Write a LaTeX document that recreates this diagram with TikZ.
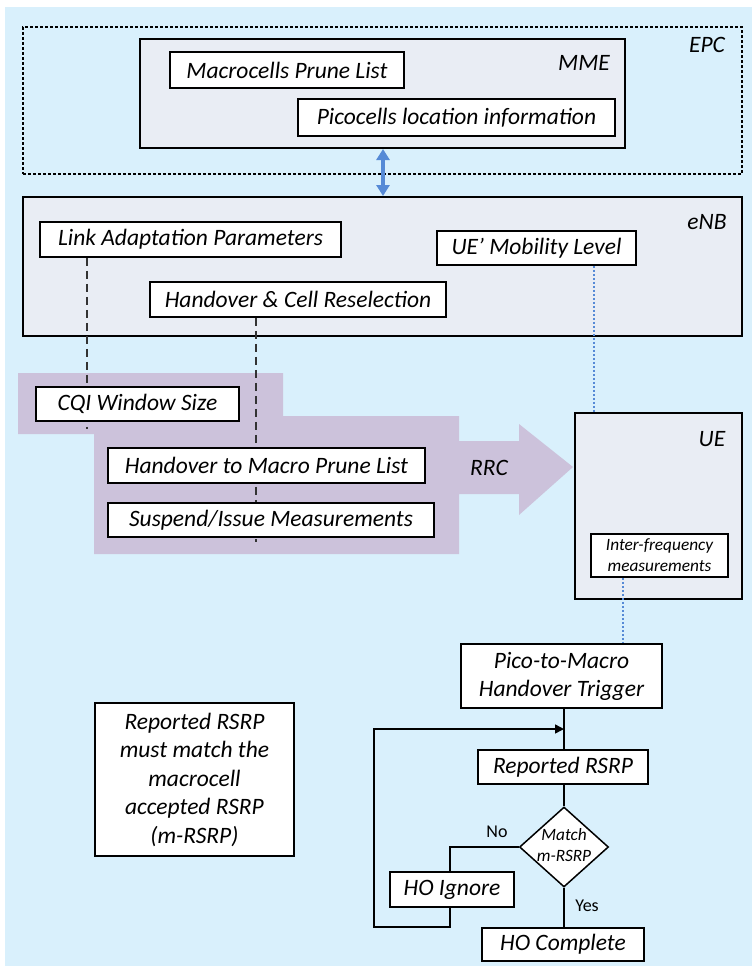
\documentclass[tikz,border=0pt]{standalone}
\usepackage{fontspec}
\setmainfont{Carlito}
\usetikzlibrary{shapes.geometric,arrows.meta}
\definecolor{bgblue}{RGB}{217,240,252}
\definecolor{contfill}{RGB}{233,237,244}
\definecolor{lavender}{RGB}{204,194,219}
\definecolor{linkblue}{RGB}{86,138,214}
\newcommand\ftA{\fontsize{23.5}{28}\selectfont\itshape}
\newcommand\ftB{\fontsize{23.5}{28.5}\selectfont\itshape}
\newcommand\ftS{\fontsize{17.3}{21}\selectfont\itshape}
\newcommand\ftN{\fontsize{18}{21}\selectfont}
\pgfdeclarelayer{bg}
\pgfdeclarelayer{mid}
\pgfsetlayers{bg,mid,main}
\tikzset{
  box/.style 2 args={draw, line width=1.5pt, fill=white, inner sep=0pt,
    minimum width=#1, minimum height=#2, align=center, font=\ftA},
  cont/.style 2 args={draw, line width=2pt, fill=contfill, inner sep=0pt,
    minimum width=#1, minimum height=#2},
  lbl/.style={inner sep=0pt, font=\ftA},
  dashline/.style={draw=black!80, line width=1.2pt, dash pattern=on 8pt off 5pt},
  dotline/.style={draw=linkblue, line width=1.2pt, dash pattern=on 2pt off 2pt},
  flow/.style={draw=black, line width=1.5pt},
}
\begin{document}
\begin{tikzpicture}[x=1pt,y=-1pt]
\useasboundingbox (0,0) rectangle (752,969);
\begin{pgfonlayer}{bg}
  \fill[white] (0,0) rectangle (752,969);
  \fill[bgblue] (5,7) rectangle (752,966);
  \node[draw, line width=1.8pt, dash pattern=on 3pt off 2pt, inner sep=0pt,
        minimum width=719pt, minimum height=147pt] (epc) at (382.5,100.5) {};
  \node[cont={485pt}{109pt}] (mme) at (382.5,93.5) {};
  \node[cont={719pt}{139pt}] (enb) at (382.5,266.5) {};
  \node[cont={167pt}{186pt}] (ue) at (658.5,506) {};
  \fill[lavender] (18,373) -- (283,373) -- (283,416) -- (459,416) -- (459,441)
    -- (519,441) -- (519,424) -- (573,467) -- (519,515) -- (519,494)
    -- (459,494) -- (459,554) -- (94,554) -- (94,434) -- (18,434) -- cycle;
\end{pgfonlayer}

% labels
\node[lbl] (epcl) at (707,45) {EPC};
\node[lbl] (mmel) at (584,63) {MME};
\node[lbl] (enbl) at (707,222) {eNB};
\node[lbl] (uel) at (712,439) {UE};
\node[lbl] (rrc) at (489,468) {RRC};

% boxes
\node[box={234pt}{36pt}] (macro) at (287,70) {Macrocells Prune List};
\node[box={317pt}{37pt}] (pico) at (456.5,117.5) {Picocells location information};
\node[box={301pt}{35pt}] (link) at (190.5,239.5) {Link Adaptation Parameters};
\node[box={199pt}{34pt}] (mob) at (536.5,248) {UE’ Mobility Level};
\node[box={296pt}{35pt}] (hcr) at (298,299.5) {Handover \& Cell Reselection};
\node[box={203pt}{34pt}] (cqi) at (137.5,404) {CQI Window Size};
\node[box={317pt}{35pt}] (hmp) at (266.5,465.5) {Handover to Macro Prune List};
\node[box={326pt}{34pt}] (sim) at (271,520) {Suspend/Issue Measurements};
\node[box={137pt}{43pt}, font=\ftS] (inter) at (659.5,555.5) {Inter-frequency\\measurements};
\node[box={201pt}{64pt}] (trig) at (561.5,676) {Pico-to-Macro\\Handover Trigger};
\node[box={170pt}{34pt}] (rep) at (563,767) {Reported RSRP};
\node[diamond, draw, fill=white, line width=1.5pt, inner sep=0pt,
      minimum width=89pt, minimum height=80pt] (dia) at (564,847) {};
\node[inner sep=0pt, align=center, font=\ftS] (diat) at (564,845) {Match\\m-RSRP};
\node[box={124pt}{35pt}] (ign) at (452,889.5) {HO Ignore};
\node[box={162pt}{33pt}] (comp) at (563,944.5) {HO Complete};
\node[box={199pt}{153pt}, font=\ftB] (note) at (194.5,779.5)
  {Reported RSRP\\must match the\\macrocell\\accepted RSRP\\(m-RSRP)};
\node[inner sep=0pt, font=\ftN] (nol) at (497,832) {No};
\node[inner sep=0pt, font=\ftN] (yesl) at (587,906) {Yes};

% coordinates
\coordinate (d1) at (87,429);
\coordinate (d2) at (256,542);
\coordinate (dm) at (594,0);
\coordinate (dp) at (623,0);
\coordinate (ba) at (383,0);
\coordinate (vx) at (564,0);
\coordinate (nx) at (450,0);
\coordinate (lb) at (374,927);
\coordinate (lt) at (374,729);

\begin{pgfonlayer}{mid}
  \draw[dashline] (link.south -| d1) -- (d1);
  \draw[dashline] (hcr.south -| d2) -- (d2);
  \draw[dotline] (mob.south -| dm) -- (ue.north -| dm);
  \draw[dotline] (inter.south -| dp) -- (trig.north -| dp);
\end{pgfonlayer}

\draw[draw=linkblue, line width=3.2pt,
  {Triangle[length=11pt,width=13pt]}-{Triangle[length=11pt,width=13pt]}]
  (mme.south -| ba) -- (enb.north -| ba);

\draw[flow] (trig.south -| vx) -- (rep.north -| vx);
\draw[flow] (rep.south -| vx) -- (dia.north);
\draw[flow] (dia.south) -- (comp.north -| dia.south);
\draw[flow] (dia.west) -| (ign.north -| nx);
\draw[flow, -{Triangle[length=9pt,width=9pt]}] (ign.south -| nx) |- (lb) -- (lt) -- (lt -| vx);
\end{tikzpicture}
\end{document}
